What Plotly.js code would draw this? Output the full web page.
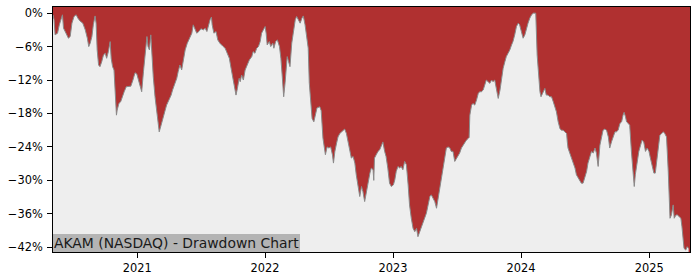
<!DOCTYPE html>
<html>
<head>
<meta charset="utf-8">
<script src="https://cdn.plot.ly/plotly-3.0.1.min.js"></script>
<style>html,body{margin:0;padding:0;background:#fff}#chart{width:700px;height:280px}</style>
</head>
<body>
<div id="chart"></div>
<script>
const title = 'AKAM (NASDAQ) - Drawdown Chart';
const yearTicks = ['2021', '2022', '2023', '2024', '2025'];
const dates = [
'2020-05-06','2020-05-09','2020-05-12','2020-05-19','2020-05-24','2020-05-29','2020-06-02','2020-06-05','2020-06-10','2020-06-14',
'2020-06-19','2020-06-24','2020-06-29','2020-07-05','2020-07-11','2020-07-16','2020-07-22','2020-07-30','2020-08-06','2020-08-12',
'2020-08-16','2020-08-20','2020-08-25','2020-08-29','2020-09-03','2020-09-06','2020-09-09','2020-09-13','2020-09-17','2020-09-22',
'2020-09-27','2020-10-02','2020-10-06','2020-10-11','2020-10-16','2020-10-19','2020-10-23','2020-10-27','2020-10-30','2020-11-03',
'2020-11-05','2020-11-10','2020-11-15','2020-11-19','2020-11-25','2020-12-01','2020-12-07','2020-12-14','2020-12-20','2020-12-26',
'2020-12-31',
'2021-01-05','2021-01-10','2021-01-14','2021-01-19','2021-01-24','2021-01-29','2021-02-01','2021-02-05','2021-02-09','2021-02-12',
'2021-02-16','2021-02-21','2021-02-26','2021-03-03','2021-03-05','2021-03-09','2021-03-15','2021-03-22','2021-03-26','2021-04-02',
'2021-04-08','2021-04-12','2021-04-19','2021-04-24','2021-04-28','2021-05-03','2021-05-08','2021-05-13','2021-05-18','2021-05-24',
'2021-05-30','2021-06-06','2021-06-10','2021-06-15','2021-06-20','2021-06-26','2021-07-02','2021-07-09','2021-07-14','2021-07-19',
'2021-07-23','2021-07-28','2021-08-01','2021-08-03','2021-08-08','2021-08-14','2021-08-19','2021-08-25','2021-09-02','2021-09-09',
'2021-09-15','2021-09-21','2021-09-26','2021-10-01','2021-10-05','2021-10-10','2021-10-14','2021-10-19','2021-10-22','2021-10-26',
'2021-10-31','2021-11-05','2021-11-11','2021-11-17','2021-11-24','2021-11-28','2021-12-03','2021-12-08','2021-12-13','2021-12-18',
'2021-12-22','2021-12-27',
'2022-01-01','2022-01-04','2022-01-07','2022-01-13','2022-01-17','2022-01-23','2022-01-26','2022-01-31','2022-02-05','2022-02-11',
'2022-02-15','2022-02-19','2022-02-23','2022-02-27','2022-03-02','2022-03-05','2022-03-09','2022-03-13','2022-03-18','2022-03-23',
'2022-03-28','2022-04-01','2022-04-06','2022-04-11','2022-04-16','2022-04-20','2022-04-25','2022-04-30','2022-05-04','2022-05-07',
'2022-05-11','2022-05-15','2022-05-20','2022-05-24','2022-05-29','2022-06-06','2022-06-10','2022-06-15','2022-06-18','2022-06-22',
'2022-06-27','2022-07-02','2022-07-07','2022-07-12','2022-07-15','2022-07-19','2022-07-24','2022-07-28','2022-08-02','2022-08-07',
'2022-08-11','2022-08-16','2022-08-21','2022-08-26','2022-08-31','2022-09-04','2022-09-09','2022-09-14','2022-09-18','2022-09-23',
'2022-09-28','2022-10-03','2022-10-07','2022-10-12','2022-10-17','2022-10-22','2022-10-27','2022-10-31','2022-11-05','2022-11-07',
'2022-11-09','2022-11-14','2022-11-19','2022-11-24','2022-11-28','2022-12-03','2022-12-08','2022-12-12','2022-12-17','2022-12-22',
'2022-12-27',
'2023-01-02','2023-01-06','2023-01-10','2023-01-15','2023-01-20','2023-01-24','2023-01-29','2023-02-03','2023-02-08','2023-02-13',
'2023-02-17','2023-02-22','2023-02-27','2023-03-04','2023-03-09','2023-03-13','2023-03-18','2023-03-23','2023-03-28','2023-04-02',
'2023-04-06','2023-04-11','2023-04-16','2023-04-20','2023-04-25','2023-04-30','2023-05-05','2023-05-09','2023-05-14','2023-05-19',
'2023-05-24','2023-05-29','2023-06-02','2023-06-07','2023-06-12','2023-06-16','2023-06-21','2023-06-26','2023-07-01','2023-07-06',
'2023-07-10','2023-07-15','2023-07-20','2023-07-25','2023-07-29','2023-08-03','2023-08-06','2023-08-08','2023-08-13','2023-08-17',
'2023-08-22','2023-08-27','2023-09-01','2023-09-05','2023-09-10','2023-09-15','2023-09-20','2023-09-24','2023-09-29','2023-10-04',
'2023-10-09','2023-10-13','2023-10-18','2023-10-23','2023-10-28','2023-11-02','2023-11-06','2023-11-11','2023-11-16','2023-11-20',
'2023-11-25','2023-11-30','2023-12-05','2023-12-09','2023-12-14','2023-12-19','2023-12-24','2023-12-28',
'2024-01-02','2024-01-07','2024-01-12','2024-01-16','2024-01-21','2024-01-26','2024-01-31','2024-02-05','2024-02-12','2024-02-16',
'2024-02-19','2024-02-24','2024-02-27','2024-03-02','2024-03-09','2024-03-13','2024-03-18','2024-03-23','2024-03-28','2024-04-02',
'2024-04-07','2024-04-11','2024-04-16','2024-04-21','2024-04-25','2024-04-30','2024-05-05','2024-05-10','2024-05-12','2024-05-14',
'2024-05-19','2024-05-24','2024-05-29','2024-06-03','2024-06-07','2024-06-12','2024-06-17','2024-06-21','2024-06-26','2024-07-01',
'2024-07-06','2024-07-10','2024-07-15','2024-07-20','2024-07-25','2024-07-30','2024-08-03','2024-08-08','2024-08-13','2024-08-18',
'2024-08-22','2024-08-27','2024-09-01','2024-09-06','2024-09-10','2024-09-15','2024-09-20','2024-09-25','2024-09-29','2024-10-04',
'2024-10-09','2024-10-14','2024-10-18','2024-10-21','2024-10-25','2024-10-28','2024-11-02','2024-11-06','2024-11-11','2024-11-16',
'2024-11-19','2024-11-22','2024-11-27','2024-12-02','2024-12-07','2024-12-11','2024-12-16','2024-12-21','2024-12-26','2024-12-31',
'2025-01-04','2025-01-09','2025-01-14','2025-01-18','2025-01-22','2025-01-27','2025-01-31','2025-02-05','2025-02-10','2025-02-14',
'2025-02-19','2025-02-24','2025-03-01','2025-03-05','2025-03-10','2025-03-13','2025-03-18','2025-03-22','2025-03-27','2025-04-01',
'2025-04-04','2025-04-08','2025-04-10','2025-04-15','2025-04-19','2025-04-23'
];
const drawdown = [
-0.3,-1.2,-3.9,-3.6,-2.1,-0.9,-0.3,-2.7,-3.3,-3.9,
-4.5,-4.2,-1.8,-0.6,-0.3,-0.9,-1.4,-1.8,-3.0,-4.5,
-6.0,-5.4,-4.2,-2.1,-0.5,-1.8,-6.6,-9.3,-9.6,-8.7,
-7.5,-7.2,-8.1,-6.9,-5.1,-8.1,-9.6,-10.2,-14.4,-18.3,
-17.4,-16.2,-15.9,-15.0,-14.1,-13.2,-13.1,-13.1,-12.0,-10.7,
-10.9,
-12.0,-13.2,-14.1,-10.5,-7.8,-4.2,-6.0,-6.6,-3.9,-7.5,
-11.4,-15.0,-18.0,-20.4,-21.3,-20.4,-18.8,-17.4,-16.5,-15.6,
-14.7,-13.8,-12.5,-11.7,-10.5,-9.3,-10.2,-8.1,-6.6,-5.4,
-4.5,-3.6,-2.1,-3.0,-3.6,-3.3,-2.8,-3.0,-2.7,-3.3,
-2.1,-1.2,-0.7,-2.1,-3.6,-3.3,-4.8,-5.4,-5.9,-6.3,
-7.2,-8.1,-9.9,-11.7,-13.5,-14.7,-13.5,-11.7,-12.3,-11.1,
-12.0,-10.2,-9.3,-8.4,-7.8,-6.9,-7.2,-6.3,-6.0,-5.1,
-3.6,-3.0,
-2.4,-3.6,-5.7,-5.1,-6.0,-5.4,-6.3,-5.1,-4.8,-6.0,
-8.1,-11.4,-15.0,-12.5,-9.6,-7.8,-8.7,-9.6,-5.4,-3.6,
-1.2,-0.6,-1.2,-1.8,-0.9,-0.5,-2.1,-4.2,-6.3,-12.5,
-16.5,-18.9,-19.5,-18.3,-17.0,-16.8,-17.5,-22.4,-24.2,-25.4,
-24.0,-24.2,-24.0,-25.4,-26.9,-24.8,-23.3,-22.2,-21.6,-21.3,
-21.0,-20.8,-21.6,-23.3,-24.8,-26.0,-25.7,-26.9,-29.0,-31.1,
-32.9,-31.1,-32.0,-33.8,-32.0,-29.9,-28.7,-27.8,-28.1,-30.0,
-26.0,-25.4,-24.8,-24.5,-23.7,-23.1,-24.8,-25.7,-27.8,-30.5,
-31.1,
-30.8,-29.9,-28.4,-27.5,-27.8,-27.5,-28.1,-26.6,-27.2,-30.8,
-34.4,-36.8,-38.6,-39.2,-38.6,-40.1,-39.2,-38.3,-37.4,-36.5,
-35.9,-34.4,-32.9,-32.6,-33.2,-33.8,-35.0,-33.5,-31.1,-29.0,
-27.2,-25.7,-24.2,-24.0,-24.2,-24.8,-24.8,-26.6,-26.0,-25.4,
-25.1,-24.2,-23.7,-23.1,-22.8,-22.5,-22.3,-18.3,-16.5,-16.2,
-16.5,-15.6,-14.4,-14.1,-14.1,-13.8,-12.6,-12.0,-12.3,-12.6,
-12.0,-12.3,-12.0,-13.5,-15.3,-13.8,-11.7,-9.9,-8.7,-7.8,
-7.2,-6.6,-5.7,-5.1,-3.9,-2.4,-1.8,-2.1,
-3.3,-4.5,-3.9,-2.7,-1.8,-0.9,-0.3,0.0,0.0,-7.5,
-10.5,-14.1,-15.0,-14.4,-13.5,-14.7,-14.7,-15.0,-15.0,-15.9,
-16.8,-17.7,-19.5,-20.7,-21.0,-21.0,-21.3,-21.6,-23.1,-24.2,
-25.1,-26.0,-26.9,-27.8,-29.0,-29.6,-30.2,-30.5,-30.5,-29.6,
-28.4,-26.9,-25.7,-24.8,-25.1,-24.2,-25.1,-27.5,-23.7,-21.9,
-21.0,-20.8,-21.0,-22.2,-24.2,-23.1,-22.2,-21.3,-21.3,-21.0,
-19.8,-19.5,-18.3,-17.8,-18.6,-19.5,-19.8,-20.1,-24.9,-29.0,
-31.1,-29.0,-26.6,-24.8,-23.7,-22.8,-23.1,-24.8,-24.2,-24.8,
-26.0,-27.2,-28.7,-28.7,-26.6,-24.2,-21.9,-21.6,-21.3,-21.6,
-22.2,-28.4,-36.8,-36.2,-34.4,-36.8,-36.2,-36.2,-36.5,-36.8,
-38.3,-40.4,-42.2,-42.5,-41.9,-42.2
];

const first = dates[0], last = dates[dates.length - 1];
const tickFont = {family: 'DejaVu Sans', size: 11.4, color: '#000'};

const traces = [
  {x: [first, last], y: [-100, -100], mode: 'lines', line: {width: 0, color: 'rgba(0,0,0,0)'},
   hoverinfo: 'skip', showlegend: false},
  {x: dates, y: drawdown, mode: 'lines', fill: 'tonexty', fillcolor: '#eeeeee',
   line: {color: '#8a8a8a', width: 1}, showlegend: false}
];

const layout = {
  width: 700, height: 280,
  margin: {l: 53, r: 10, t: 7, b: 28, pad: 0},
  paper_bgcolor: '#ffffff',
  plot_bgcolor: '#b03030',
  showlegend: false,
  xaxis: {
    type: 'date',
    range: [first, '2025-04-27'],
    tickvals: yearTicks.map(y => y + '-01-01'),
    ticktext: yearTicks,
    ticks: 'outside', ticklen: 5, tickwidth: 1, tickcolor: '#000',
    showgrid: false, zeroline: false,
    showline: true, linecolor: '#000', linewidth: 1, mirror: true,
    tickfont: tickFont
  },
  yaxis: {
    range: [-42.85, 1.1],
    tickmode: 'linear', tick0: 0, dtick: 6,
    ticksuffix: '%',
    ticks: 'outside', ticklen: 5, tickwidth: 1, tickcolor: '#000',
    ticklabelstandoff: 2,
    showgrid: false, zeroline: false,
    showline: true, linecolor: '#000', linewidth: 1, mirror: true,
    tickfont: tickFont
  },
  annotations: [{
    text: title, xref: 'paper', yref: 'paper', x: 0, y: 0,
    xanchor: 'left', yanchor: 'bottom', showarrow: false,
    bgcolor: '#b4b4b4', borderpad: 1, borderwidth: 0,
    font: {family: 'DejaVu Sans', size: 13.9, color: '#1a1a1a'}
  }]
};

Plotly.newPlot('chart', traces, layout, {staticPlot: true, displayModeBar: false});
</script>
</body>
</html>
